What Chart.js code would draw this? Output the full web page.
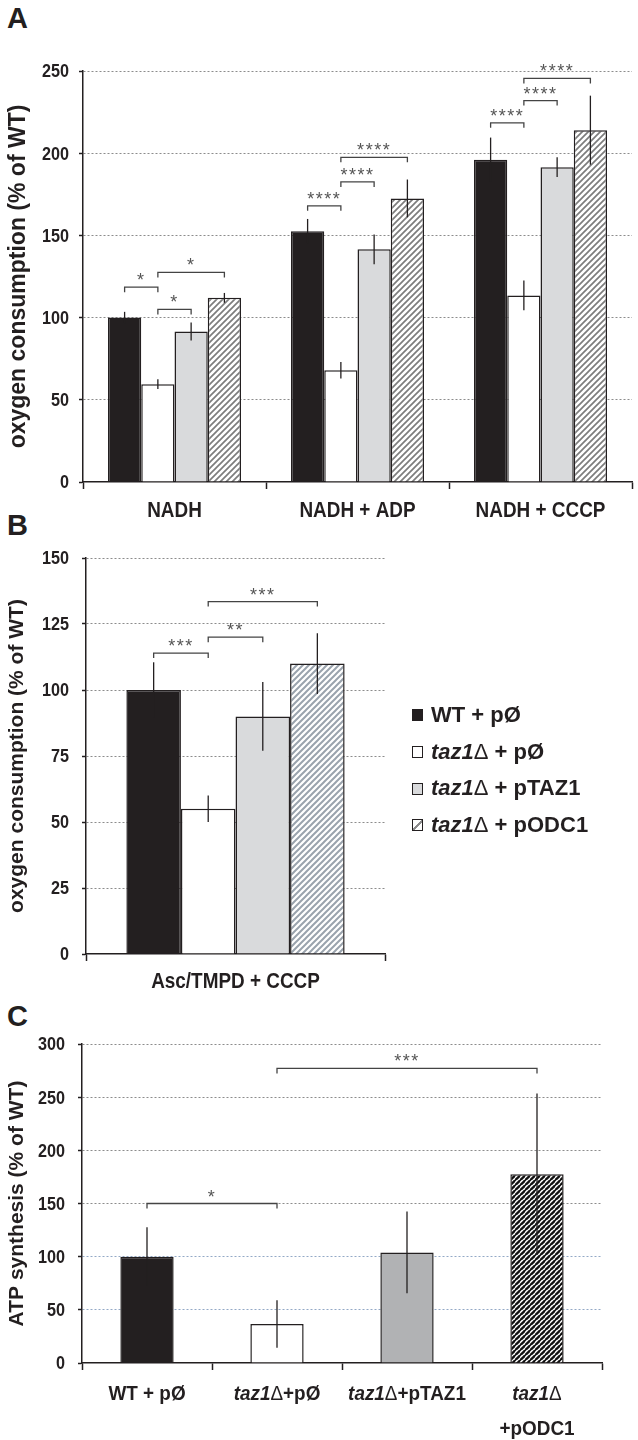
<!DOCTYPE html>
<html><head><meta charset="utf-8">
<script src="https://cdn.jsdelivr.net/npm/chart.js@4"></script>
<style>
html,body{margin:0;padding:0;background:#fff;}
body{width:638px;height:1440px;position:relative;overflow:hidden;}
canvas{position:absolute;left:0;}
.lbl{position:absolute;font-family:"Liberation Sans",Arial,sans-serif;font-weight:bold;color:#231f20;line-height:1;}
#legend{position:absolute;left:412px;top:697px;font-family:"Liberation Sans",Arial,sans-serif;font-weight:bold;font-size:22px;color:#231f20;}
#legend div{height:36.7px;line-height:36.7px;white-space:nowrap;}
.sw{display:inline-block;width:9px;height:10px;border:1px solid #231f20;margin-right:8px;vertical-align:middle;position:relative;top:-1px;}
</style></head><body>
<div class="lbl" style="left:7px;top:4px;font-size:29px;">A</div>
<div class="lbl" style="left:7px;top:511px;font-size:29px;">B</div>
<div class="lbl" style="left:7px;top:1002px;font-size:29px;">C</div>
<canvas id="cA" width="638" height="530" style="top:0"></canvas>
<canvas id="cB" width="638" height="470" style="top:530px"></canvas>
<canvas id="cC" width="638" height="440" style="top:1000px"></canvas>
<div id="legend"></div>
<script>
// ---------- DATA ----------
const seriesNames = ['WT + pØ', 'taz1Δ + pØ', 'taz1Δ + pTAZ1', 'taz1Δ + pODC1'];

// Panel A
const groupsA = ['NADH', 'NADH + ADP', 'NADH + CCCP'];
const wtA   = [100, 152.5, 196];
const tazA  = [59.5, 68, 113.5];
const ptazA = [91.5, 141.5, 191.5];
const podcA = [112, 172.5, 214];
const wtErrA   = [3.5, 7.5, 13.5];
const tazErrA  = [3, 5, 9];
const ptazErrA = [5.5, 9, 6];
const podcErrA = [3, 11.5, 21];
const ticksA = [0, 50, 100, 150, 200, 250];
// brackets: [group, fromSeries, toSeries, yValue, label]
const sigA = [
  [0, 0, 1, 118.5, '*'], [0, 1, 2, 105, '*'], [0, 1, 3, 127.5, '*'],
  [1, 0, 1, 168, '****'], [1, 1, 2, 182.5, '****'], [1, 1, 3, 197.5, '****'],
  [2, 0, 1, 218.5, '****'], [2, 1, 2, 232, '****'], [2, 1, 3, 245.5, '****']
];

// Panel B
const groupsB = ['Asc/TMPD + CCCP'];
const wtB = [100], tazB = [55], ptazB = [90], podcB = [110];
const wtErrB = [10.5], tazErrB = [5], ptazErrB = [13], podcErrB = [11.5];
const ticksB = [0, 25, 50, 75, 100, 125, 150];
const sigB = [[0, 0, 1, 114, '***'], [0, 1, 2, 120, '**'], [0, 1, 3, 133.5, '***']];

// Panel C
const groupsC = [['WT + pØ'], ['taz1Δ+pØ'], ['taz1Δ+pTAZ1'], ['taz1Δ', '+pODC1']];
const valuesC = [100, 36.7, 104, 177.5];
const errC    = [27.6, 22.4, 38.5, 76];
const ticksC = [0, 50, 100, 150, 200, 250, 300];
// brackets: [fromIndex, toIndex, yValue, label]
const sigC = [[0, 1, 150, '*'], [1, 3, 277, '***']];

// ---------- STYLE ----------
const INK = '#231f20';
const SANS = '"Liberation Sans",Arial,sans-serif';
Chart.defaults.font.family = SANS;
Chart.defaults.color = INK;
const CLEAR = 'rgba(0,0,0,0)';

function hatch(stripe, bg, period, lw) {
  const c = document.createElement('canvas'); c.width = period; c.height = period;
  const x = c.getContext('2d');
  x.fillStyle = bg; x.fillRect(0, 0, period, period);
  x.strokeStyle = stripe; x.lineWidth = lw;
  x.beginPath();
  x.moveTo(-2, period + 2); x.lineTo(period + 2, -2);
  x.moveTo(-2, 2); x.lineTo(2, -2);
  x.moveTo(period - 2, period + 2); x.lineTo(period + 2, period - 2);
  x.stroke();
  return x.createPattern(c, 'repeat');
}
const hatchA = hatch('#7d7d7d', '#fff', 6, 1.7);
const hatchB = hatch('#9aa3ad', '#fff', 6, 2);
const hatchC = hatch('#111', '#fff', 5.5, 2.3);

// legend
(function () {
  const sw = [INK, '#fff', '#d9dadc', 'linear-gradient(135deg,#fff 45%,#8c8c8c 45%,#8c8c8c 60%,#fff 60%)'];
  const lg = document.getElementById('legend');
  seriesNames.forEach((n, i) => {
    const d = document.createElement('div');
    const s = document.createElement('span'); s.className = 'sw'; s.style.background = sw[i];
    d.appendChild(s);
    if (n.startsWith('taz1')) {
      const it = document.createElement('i'); it.textContent = 'taz1'; d.appendChild(it);
      const dl = document.createElement('span'); dl.textContent = 'Δ'; dl.style.fontWeight = 'normal'; d.appendChild(dl);
      d.appendChild(document.createTextNode(n.slice(5)));
    } else d.appendChild(document.createTextNode(n));
    lg.appendChild(d);
  });
})();

// text drawing with horizontal compression (condensed face look)
function richParts(text, size) {
  const parts = [];
  if (text.startsWith('taz1')) {
    parts.push({ t: 'taz1', f: 'italic bold ' + size + 'px ' + SANS });
    parts.push({ t: 'Δ', f: size + 'px ' + SANS });
    if (text.length > 5) parts.push({ t: text.slice(5), f: 'bold ' + size + 'px ' + SANS });
  } else parts.push({ t: text, f: 'bold ' + size + 'px ' + SANS });
  return parts;
}
function drawText(ctx, text, x, yBase, align, size, sx) {
  const parts = richParts(text, size);
  let w = 0;
  parts.forEach(p => { ctx.font = p.f; p.w = ctx.measureText(p.t).width; w += p.w; });
  ctx.save();
  ctx.translate(x, yBase); ctx.scale(sx, 1);
  let s = align === 'right' ? -w : (align === 'center' ? -w / 2 : 0);
  ctx.textAlign = 'left'; ctx.textBaseline = 'alphabetic'; ctx.fillStyle = INK;
  parts.forEach(p => { ctx.font = p.f; ctx.fillText(p.t, s, 0); s += p.w; });
  ctx.restore();
}
function labelsPlugin(cfg) {
  return {
    id: 'lbls',
    afterDraw(chart) {
      const ctx = chart.ctx, ys = chart.scales.y, xs = chart.scales.x;
      ys.ticks.forEach(t => {
        const y = ys.getPixelForValue(t.value);
        drawText(ctx, String(t.value), cfg.yRight, y + 0.358 * cfg.ySize, 'right', cfg.ySize, cfg.ySx);
      });
      chart.data.labels.forEach((lab, i) => {
        const cx = xs.getPixelForValue(i);
        const lines = Array.isArray(lab) ? lab : [lab];
        lines.forEach((ln, k) => drawText(ctx, ln, cx, xs.top + cfg.xBase + k * cfg.xLine, 'center', cfg.xSize, cfg.xSx));
      });
    }
  };
}

function starText(ctx, txt, x, y) {
  ctx.save();
  ctx.fillStyle = '#555';
  ctx.font = '18px ' + SANS;
  try { ctx.letterSpacing = '1.5px'; } catch (e) {}
  ctx.textAlign = 'center'; ctx.textBaseline = 'alphabetic';
  ctx.fillText(txt, x, y + 5);
  ctx.restore();
}
function bracket(ctx, x1, x2, y, txt) {
  ctx.save();
  ctx.strokeStyle = '#444'; ctx.lineWidth = 1.3;
  ctx.beginPath();
  ctx.moveTo(x1, y + 5); ctx.lineTo(x1, y); ctx.lineTo(x2, y); ctx.lineTo(x2, y + 5);
  ctx.stroke();
  ctx.restore();
  starText(ctx, txt, (x1 + x2) / 2, y - 6);
}

function groupedPlugin(errs, sigs) {
  return {
    id: 'eb',
    afterDatasetsDraw(chart) {
      const ctx = chart.ctx, ys = chart.scales.y;
      ctx.save();
      ctx.strokeStyle = INK; ctx.lineWidth = 1.3;
      chart.data.datasets.forEach((ds, d) => {
        const meta = chart.getDatasetMeta(d);
        meta.data.forEach((bar, i) => {
          const v = ds.data[i], e = errs[d][i];
          ctx.beginPath();
          ctx.moveTo(bar.x, ys.getPixelForValue(v + e));
          ctx.lineTo(bar.x, ys.getPixelForValue(v - e));
          ctx.stroke();
        });
      });
      ctx.restore();
      sigs.forEach(([g, a, b, yv, t]) => {
        const x1 = chart.getDatasetMeta(a).data[g].x;
        const x2 = chart.getDatasetMeta(b).data[g].x;
        bracket(ctx, x1, x2, ys.getPixelForValue(yv), t);
      });
    }
  };
}

function yScale(max, ticks, width, title, titleSize, gridColor) {
  return {
    min: 0, max: max,
    afterBuildTicks(s) { s.ticks = ticks.map(v => ({ value: v })); },
    ticks: { padding: 10, font: { size: 18, weight: 'bold' }, color: CLEAR },
    grid: {
      color: c => (c.tick && c.tick.value === 0) ? CLEAR : gridColor(c.tick ? c.tick.value : 0),
      lineWidth: 1, tickLength: 4, tickColor: INK, tickWidth: 1.5
    },
    border: { color: INK, width: 1.5, dash: [2, 2] },
    title: { display: true, text: title, font: { family: SANS, size: titleSize, weight: 'bold' }, color: INK, padding: { top: 5, bottom: 0 } },
    afterFit(s) { s.width = width; }
  };
}
function xScale(height) {
  return {
    grid: { display: true, drawOnChartArea: false, tickLength: 7, tickColor: INK, tickWidth: 1.5, offset: true },
    border: { color: INK, width: 1.5 },
    ticks: { font: { size: 12 }, color: CLEAR, maxRotation: 0, autoSkip: false },
    afterFit(s) { s.height = height; }
  };
}
const baseOpts = { responsive: false, animation: false, devicePixelRatio: 1, events: [] };
const barBorder = { borderColor: INK, borderWidth: 1.5 };

// Panel A
new Chart(document.getElementById('cA'), {
  type: 'bar',
  data: {
    labels: groupsA,
    datasets: [
      Object.assign({ data: wtA, backgroundColor: INK }, barBorder),
      Object.assign({ data: tazA, backgroundColor: '#fff' }, barBorder),
      Object.assign({ data: ptazA, backgroundColor: '#d9dadc' }, barBorder),
      Object.assign({ data: podcA, backgroundColor: hatchA }, barBorder)
    ]
  },
  options: Object.assign({}, baseOpts, {
    layout: { padding: { left: 0, right: 6, top: 71, bottom: 0 } },
    datasets: { bar: { categoryPercentage: 0.727, barPercentage: 1 } },
    plugins: { legend: { display: false }, tooltip: { enabled: false } },
    scales: {
      x: xScale(48),
      y: yScale(250, ticksA, 83, 'oxygen consumption (% of WT)', 23, () => '#8c8c8c')
    }
  }),
  plugins: [groupedPlugin([wtErrA, tazErrA, ptazErrA, podcErrA], sigA),
            labelsPlugin({ yRight: 69, ySize: 18, ySx: 0.9, xBase: 35, xLine: 37, xSize: 22, xSx: 0.86 })]
});

// Panel B
new Chart(document.getElementById('cB'), {
  type: 'bar',
  data: {
    labels: groupsB,
    datasets: [
      Object.assign({ data: wtB, backgroundColor: INK }, barBorder),
      Object.assign({ data: tazB, backgroundColor: '#fff' }, barBorder),
      Object.assign({ data: ptazB, backgroundColor: '#d9dadc' }, barBorder),
      Object.assign({ data: podcB, backgroundColor: hatchB }, barBorder)
    ]
  },
  options: Object.assign({}, baseOpts, {
    layout: { padding: { left: 0, right: 253, top: 28, bottom: 0 } },
    datasets: { bar: { categoryPercentage: 0.73, barPercentage: 1 } },
    plugins: { legend: { display: false }, tooltip: { enabled: false } },
    scales: {
      x: xScale(46),
      y: yScale(150, ticksB, 86, 'oxygen consumption (% of WT)', 21, () => '#8c8c8c')
    }
  }),
  plugins: [groupedPlugin([wtErrB, tazErrB, ptazErrB, podcErrB], sigB),
            labelsPlugin({ yRight: 69, ySize: 18, ySx: 0.9, xBase: 34, xLine: 37, xSize: 22, xSx: 0.86 })]
});

// Panel C
new Chart(document.getElementById('cC'), {
  type: 'bar',
  data: {
    labels: groupsC,
    datasets: [Object.assign({ data: valuesC, backgroundColor: [INK, '#fff', '#b1b2b4', hatchC] }, barBorder)]
  },
  options: Object.assign({}, baseOpts, {
    layout: { padding: { left: 0, right: 36, top: 44, bottom: 0 } },
    datasets: { bar: { categoryPercentage: 1, barPercentage: 0.41 } },
    plugins: { legend: { display: false }, tooltip: { enabled: false } },
    scales: {
      x: xScale(77),
      y: yScale(300, ticksC, 82, 'ATP synthesis (% of WT)', 21, v => v <= 100 ? '#93a9c6' : '#8c8c8c')
    }
  }),
  plugins: [{
    id: 'cc',
    afterDatasetsDraw(chart) {
      const ctx = chart.ctx, ys = chart.scales.y;
      const meta = chart.getDatasetMeta(0);
      ctx.save(); ctx.strokeStyle = INK; ctx.lineWidth = 1.3;
      meta.data.forEach((bar, i) => {
        ctx.beginPath();
        ctx.moveTo(bar.x, ys.getPixelForValue(valuesC[i] + errC[i]));
        ctx.lineTo(bar.x, ys.getPixelForValue(valuesC[i] - errC[i]));
        ctx.stroke();
      });
      ctx.restore();
      sigC.forEach(([a, b, yv, t]) => bracket(ctx, meta.data[a].x, meta.data[b].x, ys.getPixelForValue(yv), t));
    }
  }, labelsPlugin({ yRight: 65, ySize: 18, ySx: 0.9, xBase: 36.5, xLine: 35, xSize: 21, xSx: 0.9 })]
});
</script>
</body></html>
